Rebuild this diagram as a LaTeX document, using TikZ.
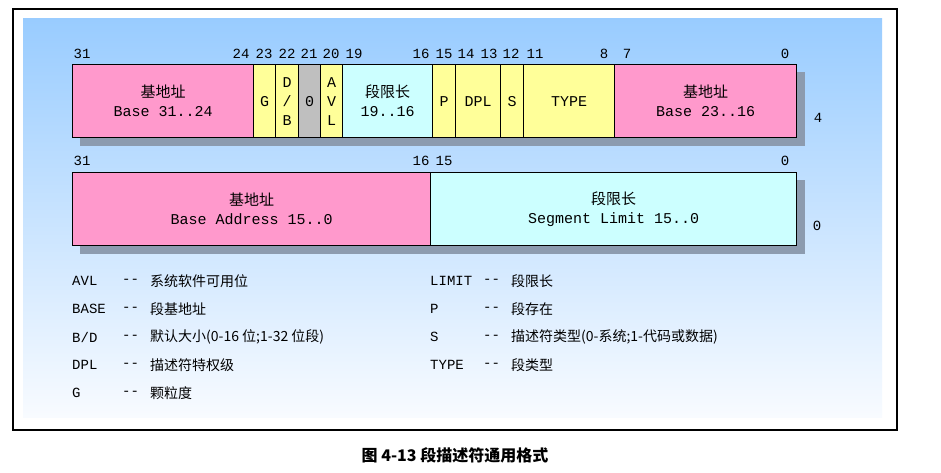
\documentclass[tikz,border=0pt]{standalone}
\usepackage{fontspec}
\setmainfont{Liberation Mono}
\newfontfamily\cjk{Noto Sans CJK SC}
\definecolor{pk}{RGB}{255,153,204}
\definecolor{yl}{RGB}{255,255,153}
\definecolor{cy}{RGB}{204,255,255}
\definecolor{shd}{RGB}{140,155,175}
\begin{document}
\begin{tikzpicture}[x=1pt,y=-1pt,
  fld/.style={draw=black,line width=1.2pt,minimum height=73pt,inner sep=0pt,anchor=north west,align=center,font=\fontsize{15}{19}\selectfont},
  pink/.style={fld,fill=pk},
  yel/.style={fld,fill=yl},
  cyanf/.style={fld,fill=cy},
  grayf/.style={fld,fill=black!25},
  bitn/.style={font=\fontsize{14}{16}\selectfont,inner sep=0pt},
  lg/.style={font=\fontsize{14}{16}\selectfont,inner sep=0pt,anchor=west}]
\useasboundingbox (0,0) rectangle (941,473);
\fill[white] (0,0) rectangle (941,473);
\draw[line width=1.5pt] (13,9) rectangle (897,430);
\shade[top color={rgb,255:red,153;green,204;blue,255},bottom color={rgb,255:red,248;green,251;blue,255}] (23,19) rectangle (882,417);
% shadows
\fill[shd] (80,72) rectangle (805,146);
\fill[shd] (80,180) rectangle (805,254);
% row 1
\node[pink,minimum width=181pt] (b1) at (72,64) {{\cjk 基地址}\\Base 31..24};
\node[yel,minimum width=22pt] (g) at (253,64) {G};
\node[yel,minimum width=23pt] (db) at (275,64) {D\\/\\B};
\node[grayf,minimum width=22pt] (z) at (298,64) {0};
\node[yel,minimum width=22pt] (avl) at (320,64) {A\\V\\L};
\node[cyanf,minimum width=90pt] (lim1) at (342,64) {{\cjk 段限长}\\19..16};
\node[yel,minimum width=23pt] (p) at (432,64) {P};
\node[yel,minimum width=45pt] (dpl) at (455,64) {DPL};
\node[yel,minimum width=23pt] (s) at (500,64) {S};
\node[yel,minimum width=91pt] (type) at (523,64) {TYPE};
\node[pink,minimum width=182pt] (b2) at (614,64) {{\cjk 基地址}\\Base 23..16};
\node[bitn] (w4) at (818,118) {4};
% row 2
\node[pink,minimum width=358pt] (b3) at (72,172) {{\cjk 基地址}\\Base Address 15..0};
\node[cyanf,minimum width=366pt] (lim2) at (430,172) {{\cjk 段限长}\\Segment Limit 15..0};
\node[bitn] (w0) at (817,226) {0};
% bit numbers
\foreach \x/\t in {82/31,241/24,264/23,287/22,309/21,331/20,354/19,421/16,444/15,466/14,489/13,511/12,535/11,604/8,627/7,785/0}
  \node[bitn] (n\t) at (\x,54) {\t};
\foreach \x/\t in {82/31,421/16,444/15,785/0}
  \node[bitn] (m\t) at (\x,161) {\t};
% legend
\foreach \y/\a/\b in {281/AVL/系统软件可用位,309/BASE/段基地址,337/B\slash D/默认大小(0-16 位;1-32 位段),365/DPL/描述符特权级,393/G/颗粒度}{
  \node[lg] at (72,\y) {\a};
  \node[lg] at (122,\y) {{-}{-}};
  \node[lg] at (150,\y) {\cjk \b};}
\foreach \y/\a/\b in {281/LIMIT/段限长,309/P/段存在,337/S/描述符类型(0-系统;1-代码或数据),365/TYPE/段类型}{
  \node[lg] at (430,\y) {\a};
  \node[lg] at (483,\y) {{-}{-}};
  \node[lg] at (511,\y) {\cjk \b};}
\node[font=\cjk\bfseries\fontsize{16}{18}\selectfont] (cap) at (455,455) {图 4-13 段描述符通用格式};
\end{tikzpicture}
\end{document}
